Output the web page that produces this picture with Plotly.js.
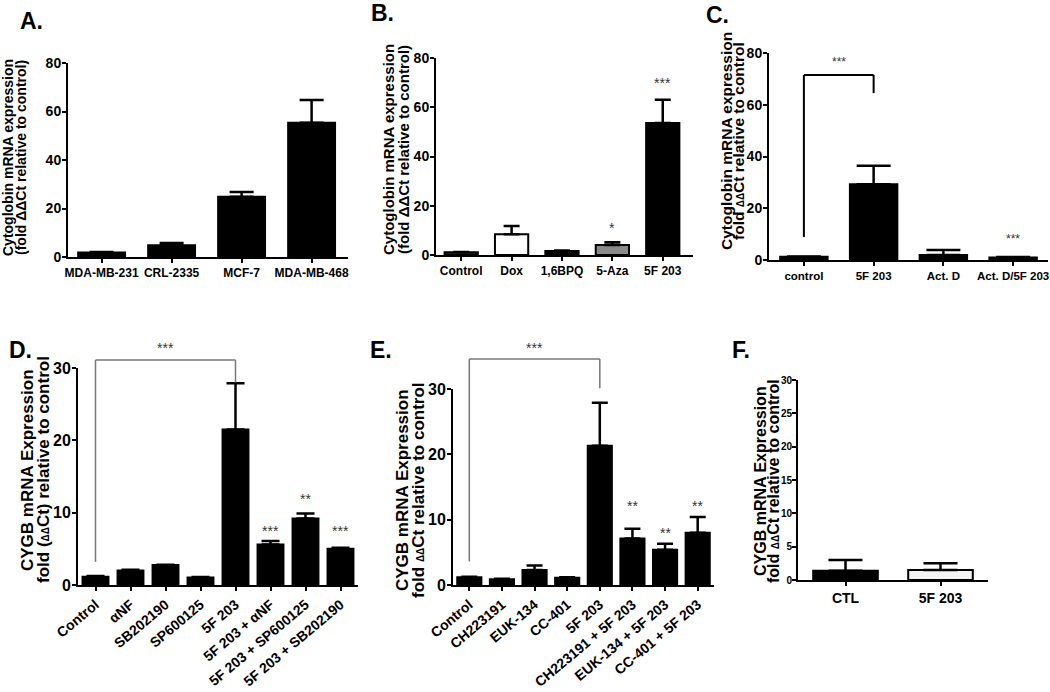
<!DOCTYPE html>
<html>
<head>
<meta charset="utf-8">
<script src="https://cdn.plot.ly/plotly-3.0.1.min.js"></script>
<style>html,body{margin:0;padding:0;background:#fff}#chart{width:1050px;height:692px}</style>
</head>
<body>
<div id="chart"></div>
<script>
// ---- data ----
const catsA = ['MDA-MB-231', 'CRL-2335', 'MCF-7', 'MDA-MB-468'];
const valsA = [1.9, 4.8, 24.8, 55.4];
const errA = [0.2, 1.0, 2.0, 9.3];

const catsB = ['Control', 'Dox', '1,6BPQ', '5-Aza', '5F 203'];
const valsB = [1.1, 8.4, 1.6, 4.1, 53.6];
const errB = [0.1, 3.4, 0.2, 1.1, 9.4];

const catsC = ['control', '5F 203', 'Act. D', 'Act. D/5F 203'];
const valsC = [1.3, 29.3, 1.9, 1.0];
const errC = [0.1, 7.1, 2.0, 0.2];

const catsD = ['Control', 'αNF', 'SB202190', 'SP600125', '5F 203', '5F 203 + αNF', '5F 203 + SP600125', '5F 203 + SB202190'];
const valsD = [1.15, 2.0, 2.75, 1.05, 21.5, 5.6, 9.2, 5.0];
const errD = [0.1, 0.1, 0.05, 0.05, 6.4, 0.5, 0.7, 0.15];

const catsE = ['Control', 'CH223191', 'EUK-134', 'CC-401', '5F 203', 'CH223191 + 5F 203', 'EUK-134 + 5F 203', 'CC-401 + 5F 203'];
const valsE = [1.17, 0.87, 2.3, 1.1, 21.3, 7.1, 5.4, 8.0];
const errE = [0.1, 0.1, 0.7, 0.1, 6.6, 1.5, 0.9, 2.4];

const catsF = ['CTL', '5F 203'];
const valsF = [1.4, 1.5];
const errF = [1.6, 1.0];

// significance marks
const sigB = [{cat: '5-Aza', y: 11.0, t: '*'}, {cat: '5F 203', y: 69.8, t: '***'}];
const sigC = [{cat: 'Act. D/5F 203', y: 8.1, t: '***'}];
const sigD = [{cat: '5F 203 + αNF', y: 7.5, t: '***'}, {cat: '5F 203 + SP600125', y: 11.9, t: '**'}, {cat: '5F 203 + SB202190', y: 7.5, t: '***'}];
const sigE = [{cat: 'CH223191 + 5F 203', y: 12.1, t: '**'}, {cat: 'EUK-134 + 5F 203', y: 8.0, t: '**'}, {cat: 'CC-401 + 5F 203', y: 12.1, t: '**'}];

// ---- styling ----
const W = 1050, H = 692;
const FAM = 'Liberation Sans, Arial, Helvetica, sans-serif';
const dx = (a, b) => [a / W, b / W];
const dy = (top, bottom) => [1 - bottom / H, 1 - top / H];

const panels = {
  A: {x: dx(68, 348), y: dy(63, 257), yr: [0, 80], xr: [-0.48, 3.52]},
  B: {x: dx(436, 693), y: dy(58, 255), yr: [0, 80], xr: [-0.5, 4.6]},
  C: {x: dx(769, 1048), y: dy(53, 260), yr: [0, 80], xr: [-0.5, 3.5]},
  D: {x: dx(78, 358), y: dy(368, 585), yr: [0, 30], xr: [-0.5, 7.5]},
  E: {x: dx(453, 714), y: dy(389, 585), yr: [0, 30], xr: [-0.5, 7.5]},
  F: {x: dx(798, 988), y: dy(380, 580), yr: [0, 30], xr: [-0.5, 1.5]}
};
function py(p, v) { const P = panels[p]; return P.y[0] + (v - P.yr[0]) / (P.yr[1] - P.yr[0]) * (P.y[1] - P.y[0]); }

function bar(cats, vals, errs, ax, colors, capw, bw) {
  return {
    type: 'bar', x: cats, y: vals, xaxis: 'x' + ax, yaxis: 'y' + ax,
    width: bw,
    marker: {color: colors, line: {color: '#000', width: 2}},
    error_y: {type: 'data', symmetric: false, array: errs, arrayminus: errs.map(() => 0),
      color: '#000', thickness: 2.5, width: capw},
    hoverinfo: 'x+y'
  };
}
const data = [
  bar(catsA, valsA, errA, '', '#000', 12, 0.67),
  bar(catsB, valsB, errB, '2', ['#2a2a2a', '#ffffff', '#000', '#8a8a8a', '#000'], 8, 0.66),
  bar(catsC, valsC, errC, '3', '#000', 17, 0.68),
  bar(catsD, valsD, errD, '4', '#000', 9, 0.74),
  bar(catsE, valsE, errE, '5', '#000', 8, 0.74),
  bar(catsF, valsF, errF, '6', ['#000', '#f4f4f4'], 17, 0.68)
];

const f = (size) => ({family: FAM, size: size, color: '#000', weight: 'bold'});
function xax(p, anchor, tf, angle) {
  return {domain: panels[p].x, anchor: anchor, type: 'category', range: panels[p].xr,
    showline: true, linewidth: 2, linecolor: '#000', ticks: 'outside', ticklen: 4, tickwidth: 2,
    tickcolor: '#000', showgrid: false, zeroline: false, tickangle: angle, tickfont: tf, fixedrange: true};
}
function yax(p, anchor, tv, tf) {
  return {domain: panels[p].y, anchor: anchor, range: panels[p].yr, tickvals: tv,
    showline: true, linewidth: 2, linecolor: '#000', ticks: 'outside', ticklen: 4, tickwidth: 2,
    ticklabelstandoff: -2,
    tickcolor: '#000', showgrid: false, zeroline: false, tickfont: tf, fixedrange: true};
}

const annotations = [];
const shapes = [];
function label(t, x, y) {
  annotations.push({text: t, x: x / W, y: 1 - y / H, xref: 'paper', yref: 'paper', showarrow: false,
    font: f(23), xanchor: 'center', yanchor: 'middle'});
}
label('A.', 31, 21); label('B.', 382, 13); label('C.', 717, 15);
label('D.', 20, 350); label('E.', 381, 350); label('F.', 741, 350);

const dd = (s) => '<span style="font-size:' + s + 'px">ΔΔ</span>';
function ytitle(l1, l2, x1, x2, y, size) {
  [[l1, x1], [l2, x2]].forEach(([t, x]) => annotations.push({text: t, x: x / W, y: 1 - y / H,
    xref: 'paper', yref: 'paper', showarrow: false, textangle: -90, font: f(size),
    xanchor: 'center', yanchor: 'middle'}));
}
ytitle('Cytoglobin mRNA expression', '(fold ΔΔCt relative to control)', 8, 21, 158, 14);
ytitle('Cytoglobin mRNA expression', '(fold ΔΔCt relative to control)', 389, 404, 150, 15);
ytitle('Cytoglobin mRNA expression', 'fold ' + dd(10) + 'Ct relative to control', 726, 738, 141, 15.5);
ytitle('CYGB mRNA Expression', 'fold (' + dd(10) + 'Ct) relative to control', 27, 43, 470, 17);
ytitle('CYGB mRNA Expression', 'fold ' + dd(10) + 'Ct relative to control', 402, 418, 490, 17);
ytitle('CYGB mRNA Expression', 'fold ' + dd(10) + 'Ct relative to control', 760, 773, 481, 16);

function stars(list, ax, size) {
  list.forEach(s => annotations.push({text: s.t, x: s.cat, y: s.y, xref: 'x' + ax, yref: 'y' + ax,
    showarrow: false, font: {family: FAM, size: size, color: '#333'}, yanchor: 'middle'}));
}
stars(sigB, '2', 14); stars(sigC, '3', 12); stars(sigD, '4', 14); stars(sigE, '5', 14);

// bracket C (within range)
const bc = {xref: 'x3', yref: 'y3', type: 'line', line: {color: '#000', width: 2}};
shapes.push(Object.assign({x0: catsC[0], x1: catsC[0], y0: 8.9, y1: 71.5}, bc));
shapes.push(Object.assign({x0: catsC[0], x1: catsC[1], y0: 71.5, y1: 71.5}, bc));
shapes.push(Object.assign({x0: catsC[1], x1: catsC[1], y0: 71.5, y1: 64.5}, bc));
annotations.push({text: '***', x: 0.5, y: 76.5, xref: 'x3', yref: 'y3', showarrow: false,
  font: {family: FAM, size: 12, color: '#333'}, yanchor: 'middle'});

// brackets D and E (extend above the plotted range)
function bracket(p, ax, cats, y0, ytop, y1, starY) {
  const st = {xref: 'x' + ax, yref: 'paper', type: 'line', line: {color: '#777', width: 1.5}};
  shapes.push(Object.assign({x0: cats[0], x1: cats[0], y0: py(p, y0), y1: py(p, ytop)}, st));
  shapes.push(Object.assign({x0: cats[0], x1: cats[4], y0: py(p, ytop), y1: py(p, ytop)}, st));
  shapes.push(Object.assign({x0: cats[4], x1: cats[4], y0: py(p, ytop), y1: py(p, y1)}, st));
  annotations.push({text: '***', x: 2, y: py(p, starY), xref: 'x' + ax, yref: 'paper', showarrow: false,
    font: {family: FAM, size: 14, color: '#333'}, yanchor: 'middle'});
}
bracket('D', '4', catsD, 3.2, 31.1, 28.0, 32.8);
bracket('E', '5', catsE, 3.6, 34.6, 30.1, 36.3);

const layout = {
  width: W, height: H, margin: {l: 0, r: 0, t: 0, b: 0},
  paper_bgcolor: '#fff', plot_bgcolor: '#fff', showlegend: false,
  font: {family: FAM, color: '#000'},
  xaxis: xax('A', 'y', f(12), 0), yaxis: yax('A', 'x', [0, 20, 40, 60, 80], f(14)),
  xaxis2: xax('B', 'y2', f(12), 0), yaxis2: yax('B', 'x2', [0, 20, 40, 60, 80], f(14)),
  xaxis3: xax('C', 'y3', f(11.5), 0), yaxis3: yax('C', 'x3', [0, 20, 40, 60, 80], f(14)),
  xaxis4: xax('D', 'y4', f(14), -40), yaxis4: yax('D', 'x4', [0, 10, 20, 30], f(16)),
  xaxis5: xax('E', 'y5', f(14), -40), yaxis5: yax('E', 'x5', [0, 10, 20, 30], f(16)),
  xaxis6: xax('F', 'y6', f(14), 0), yaxis6: yax('F', 'x6', [0, 5, 10, 15, 20, 25, 30], f(10)),
  annotations: annotations, shapes: shapes
};
Plotly.newPlot('chart', data, layout, {displayModeBar: false, staticPlot: true});
</script>
</body>
</html>
